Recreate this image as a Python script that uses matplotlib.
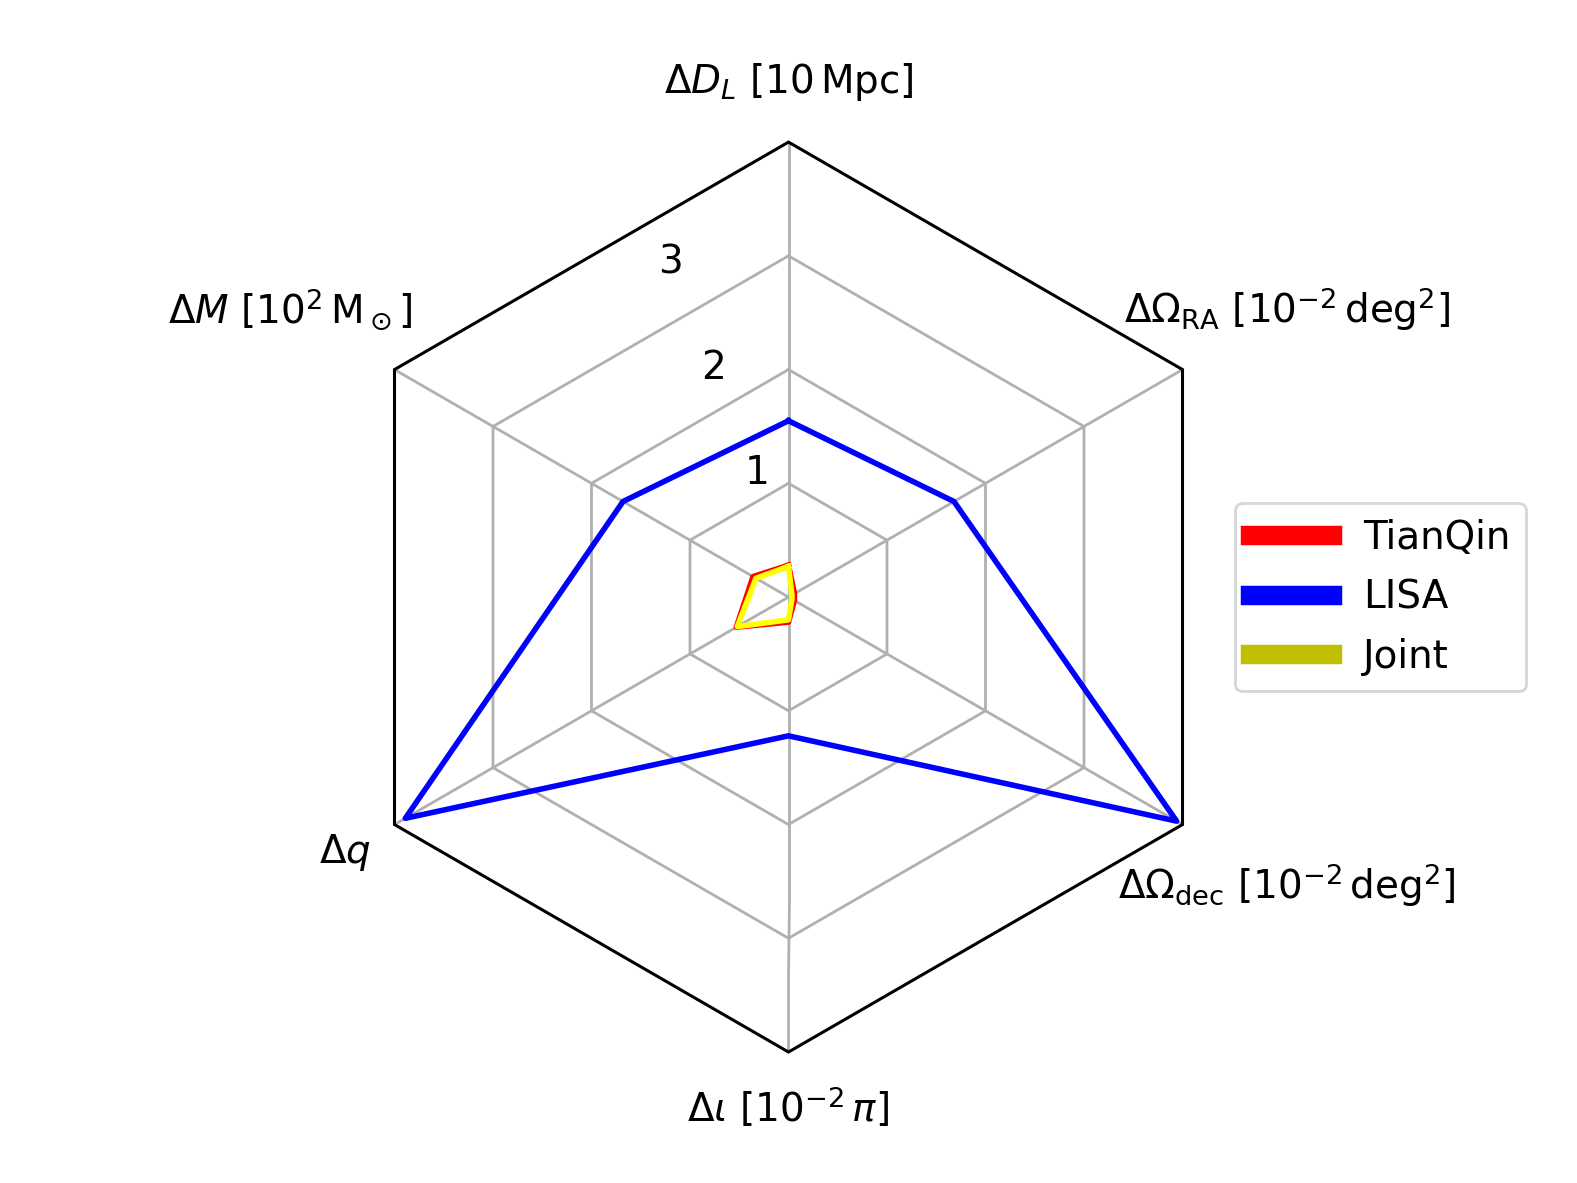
import matplotlib.pyplot as plt
import numpy as np
from matplotlib.lines import Line2D
from matplotlib.patches import RegularPolygon
from matplotlib.path import Path
from matplotlib.projections import register_projection
from matplotlib.projections.polar import PolarAxes
from matplotlib.spines import Spine
from matplotlib.transforms import Affine2D

# Parameters, counter-clockwise starting from the top
param_labels = [r'$\Delta D_L\ [10\,\mathrm{Mpc}]$',
                r'$\Delta M\ [10^2\,\mathrm{M_\odot}]$',
                r'$\Delta q$',
                r'$\Delta\iota\ [10^{-2}\,\pi]$',
                r'$\Delta\Omega_{\rm dec}\ [10^{-2}\,\mathrm{deg}^2]$',
                r'$\Delta\Omega_{\rm RA}\ [10^{-2}\,\mathrm{deg}^2]$']

tianqin = [0.28, 0.36, 0.53, 0.22, 0.06, 0.06]
lisa = [1.55, 1.68, 3.89, 1.22, 3.94, 1.68]
joint = [0.27, 0.33, 0.52, 0.20, 0.035, 0.035]

r_ticks = [1, 2, 3]
r_max = 4

# radius (data units) where each axis label is centred
label_radius = [4.53, 5.06, 4.50, 4.49, 5.06, 5.06]


def radar_factory(num_vars):
    theta = np.linspace(0, 2 * np.pi, num_vars, endpoint=False)

    class RadarTransform(PolarAxes.PolarTransform):
        def transform_path_non_affine(self, path):
            # force straight grid lines between the spokes
            if path._interpolation_steps > 1:
                path = path.interpolated(num_vars)
            return Path(self.transform(path.vertices), path.codes)

    class RadarAxes(PolarAxes):
        name = 'radar'
        PolarTransform = RadarTransform

        def __init__(self, *args, **kwargs):
            super().__init__(*args, **kwargs)
            self.set_theta_zero_location('N')

        def plot(self, *args, **kwargs):
            lines = super().plot(*args, **kwargs)
            for line in lines:
                x, y = line.get_data()
                if x[0] != x[-1]:
                    line.set_data(np.append(x, x[0]), np.append(y, y[0]))
            return lines

        def _gen_axes_patch(self):
            return RegularPolygon((0.5, 0.5), num_vars, radius=.5, edgecolor="k")

        def _gen_axes_spines(self):
            spine = Spine(axes=self, spine_type='circle',
                          path=Path.unit_regular_polygon(num_vars))
            spine.set_transform(Affine2D().scale(.5).translate(.5, .5) + self.transAxes)
            return {'polar': spine}

    register_projection(RadarAxes)
    return theta


theta = radar_factory(len(param_labels))

plt.rcParams['grid.linewidth'] = 1.0
plt.rcParams['axes.linewidth'] = 1.1

fig = plt.figure(figsize=(7.885, 5.915), dpi=200)
ax = fig.add_axes([0.5 - 0.2885, 0.4953 - 0.3846, 0.577, 0.7692], projection='radar')

ax.plot(theta, lisa, color='blue', lw=2)
ax.plot(theta, tianqin, color='red', lw=2)
ax.plot(theta, joint, color='yellow', lw=2)

ax.set_ylim(0, r_max)
ax.set_rgrids(r_ticks, labels=[str(t) for t in r_ticks], fontsize=14)
ax.set_thetagrids(np.degrees(theta), [''] * len(theta))

# axis names
for ang, rad, lab in zip(theta, label_radius, param_labels):
    ax.text(ang, rad, lab, ha='center', va='center', fontsize=14, clip_on=False)

handles = [Line2D([], [], color='red', lw=7),
           Line2D([], [], color='blue', lw=7),
           Line2D([], [], color='y', lw=7)]
fig.legend(handles, ['TianQin', 'LISA', 'Joint'], loc='center left',
           bbox_to_anchor=(0.783, 0.495), borderaxespad=0, fontsize=14,
           handlelength=2.1, labelspacing=0.55)

fig.savefig('out.png', dpi=200)
